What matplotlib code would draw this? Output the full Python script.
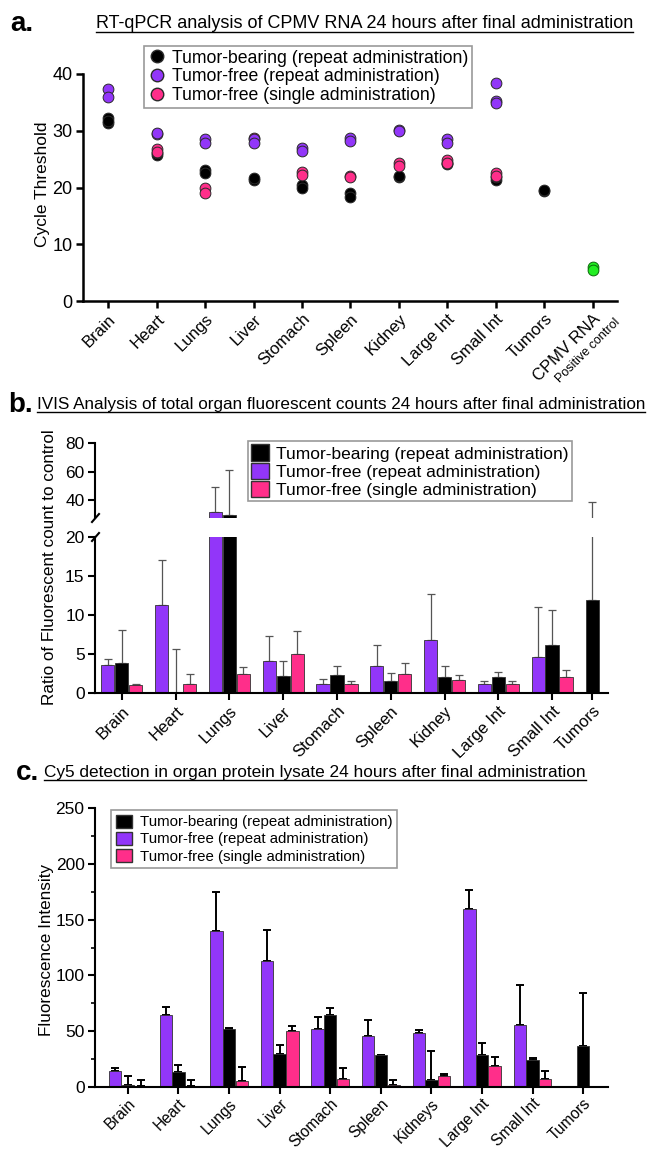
import numpy as np
import matplotlib
matplotlib.use("Agg")
import matplotlib.pyplot as plt
from matplotlib.lines import Line2D
from matplotlib.patches import Patch

plt.rcParams['font.family'] = ['Liberation Sans', 'DejaVu Sans']

BLACK = '#000000'
PURPLE = '#9236F9'
PINK = '#FF2E8A'
GREEN = '#22EE22'

# ---------------- panel a data (Ct values per organ) ----------------
organs_a = ['Brain', 'Heart', 'Lungs', 'Liver', 'Stomach', 'Spleen', 'Kidney',
            'Large Int', 'Small Int', 'Tumors', 'CPMV RNA']
tb_a = [[32.2, 31.3, 31.8], [25.7, 26.0], [23.0, 22.5], [21.4, 21.6],
        [20.4, 20.0], [19.0, 18.4], [21.8, 22.0], [24.1, 24.4],
        [21.4, 21.8], [19.4, 19.5], []]
tfr_a = [[37.3, 36.0], [29.4, 29.6], [28.5, 27.9], [28.5, 27.9],
         [26.9, 26.5], [28.8, 28.2], [30.2, 30.0], [28.5, 27.9],
         [38.5, 35.3, 34.9], [], []]
tfs_a = [[], [26.7, 26.3], [19.9, 19.0], [28.8], [22.8, 22.2],
         [22.0, 21.8], [24.3, 23.8], [24.8, 24.4], [22.5, 22.1], [], []]
ctrl_a = [6.0, 5.5]

# ---------------- panel b data (ratio to control) ----------------
organs_b = ['Brain', 'Heart', 'Lungs', 'Liver', 'Stomach', 'Spleen', 'Kidney',
            'Large Int', 'Small Int', 'Tumors']
tfr_b = [3.6, 11.3, 31.5, 4.1, 1.2, 3.4, 6.8, 1.1, 4.6, np.nan]
tfr_b_err = [0.7, 5.8, 17.5, 3.2, 0.6, 2.8, 5.9, 0.4, 6.4, np.nan]
tb_b = [3.8, 0.0, 29.4, 2.2, 2.3, 1.6, 2.0, 2.0, 6.2, 11.9]
tb_b_err = [4.3, 5.6, 31.6, 1.9, 1.2, 1.0, 1.4, 0.7, 4.5, 26.7]
tfs_b = [1.0, 1.2, 2.4, 5.0, 1.1, 2.5, 1.7, 1.1, 2.1, np.nan]
tfs_b_err = [0.2, 1.2, 0.9, 3.0, 0.4, 1.3, 0.6, 0.5, 0.9, np.nan]

# ---------------- panel c data (fluorescence intensity) ----------------
organs_c = ['Brain', 'Heart', 'Lungs', 'Liver', 'Stomach', 'Spleen', 'Kidneys',
            'Large Int', 'Small Int', 'Tumors']
tfr_c = [14, 64.5, 140, 112.5, 51.6, 45.7, 48, 159.6, 55.8, np.nan]
tfr_c_err = [3, 7.5, 35, 28, 11.4, 14.6, 3, 16.8, 35.5, np.nan]
tb_c = [1.5, 13.6, 52.2, 29.2, 64.2, 28.4, 6.3, 28.4, 24.2, 37]
tb_c_err = [8, 6.4, 0.8, 8.4, 6.2, 0.6, 26.2, 10.6, 1.8, 47.4]
tfs_c = [0.5, 1, 5.7, 49.8, 6.9, 1.8, 10.1, 19.1, 7.5, np.nan]
tfs_c_err = [5.5, 5, 12.2, 4.5, 10.1, 4.5, 1.5, 8.1, 7.1, np.nan]

legend_labels = ['Tumor-bearing (repeat administration)',
                 'Tumor-free (repeat administration)',
                 'Tumor-free (single administration)']

W, H = 649, 1150
fig = plt.figure(figsize=(W / 100, H / 100), dpi=100)


def box(l, t, r, b):
    # pixel box -> figure rect
    return [l / W, 1 - b / H, (r - l) / W, (b - t) / H]


def style_axis(ax, lw=1.5, size=12.5):
    for s in ['top', 'right']:
        ax.spines[s].set_visible(False)
    for s in ['left', 'bottom']:
        ax.spines[s].set_linewidth(lw)
    ax.tick_params(width=lw, length=5, labelsize=size, direction='out', pad=2.5)


def title(y, letter, text, x_letter, x_text, size):
    fig.text(x_letter / W, 1 - y / H, letter, fontsize=20, fontweight='bold',
             va='center', ha='left')
    t = fig.text(x_text / W, 1 - y / H, text, fontsize=size, va='center', ha='left')
    # underline
    fig.canvas.draw()
    bb = t.get_window_extent()
    fig.add_artist(Line2D([bb.x0 / W, bb.x1 / W], [(bb.y0 + 1) / H, (bb.y0 + 1) / H],
                          transform=fig.transFigure, color='black', lw=1))


# ================= panel a =================
axa = fig.add_axes(box(83, 74, 617, 301))
style_axis(axa, 1.8, 13)
xa = np.arange(len(organs_a))
for vals, col in [(tb_a, BLACK), (tfs_a, PINK), (tfr_a, PURPLE)]:
    for i, v in enumerate(vals):
        if v:
            axa.scatter([xa[i]] * len(v), v, s=60, color=col,
                        edgecolor='#2a2a2a', linewidth=0.7, zorder=3)
axa.scatter([xa[-1]] * len(ctrl_a), ctrl_a, s=60, color=GREEN,
            edgecolor='#0b6b0b', linewidth=0.7, zorder=3)
axa.set_xlim(-0.52, 10.5)
axa.set_ylim(0, 40)
axa.set_yticks([0, 10, 20, 30, 40])
axa.set_xticks(xa)
axa.set_xticklabels(organs_a, rotation=45, ha='right', rotation_mode='anchor',
                    fontsize=12)
axa.annotate('Positive control', xy=(xa[-1], 0), xycoords=('data', 'axes fraction'),
             xytext=(15, -11), textcoords='offset points', rotation=45,
             ha='right', va='top', rotation_mode='anchor', fontsize=9)
fig.text(42 / W, 1 - 184 / H, 'Cycle Threshold', rotation=90, fontsize=12.5,
         ha='center', va='center')
ha = [Line2D([], [], marker='o', ls='', color=c, markeredgecolor='#2a2a2a',
             markersize=9) for c in (BLACK, PURPLE, PINK)]
axa.legend(ha, legend_labels, loc='upper left', fontsize=12.7,
           bbox_to_anchor=(144 / W, 1 - 46 / H), bbox_transform=fig.transFigure,
           frameon=True, fancybox=False, edgecolor='#808080', borderpad=0.2,
           handletextpad=0.3, labelspacing=0.1, handlelength=1.1,
           borderaxespad=0).get_frame().set_linewidth(1.2)

# ================= panel b (broken axis) =================
xb = np.arange(len(organs_b), dtype=float)
xb[-1] -= 0.25          # tumors group sits closer
wb, offb = 0.245, 0.26
axb_top = fig.add_axes(box(95, 443, 608, 518))
axb = fig.add_axes(box(95, 537, 608, 693))
for ax in (axb_top, axb):
    style_axis(ax, 1.5, 12.5)
    for vals, errs, col, off in [(tfr_b, tfr_b_err, PURPLE, -offb),
                                 (tb_b, tb_b_err, BLACK, 0.0),
                                 (tfs_b, tfs_b_err, PINK, offb)]:
        v = np.array(vals)
        e = np.array(errs)
        ax.bar(xb + off, v, width=wb, color=col, edgecolor='#333333', linewidth=0.6,
               zorder=2)
        ax.errorbar(xb + off, v, yerr=[np.zeros_like(e), e], fmt='none',
                    ecolor='#555555', elinewidth=0.9, capsize=2.6, capthick=0.9,
                    zorder=1)
    ax.set_xlim(-0.5, 9.04)
axb_top.set_ylim(27.4, 80)
axb_top.set_yticks([40, 60, 80])
axb_top.spines['bottom'].set_visible(False)
axb_top.set_xticks([])
axb.set_ylim(0, 20)
axb.set_yticks([0, 5, 10, 15, 20])
axb.set_xticks(xb)
axb.set_xticklabels(organs_b, rotation=45, ha='right', rotation_mode='anchor',
                    fontsize=12)
# break marks
for y0 in (518, 537):
    fig.add_artist(Line2D([92 / W, 99 / W], [1 - (y0 + 4) / H, 1 - (y0 - 4) / H],
                          transform=fig.transFigure, color='black', lw=1.5))
fig.text(50 / W, 1 - 567 / H, 'Ratio of Fluorescent count to control', rotation=90,
         fontsize=12.3, ha='center', va='center')
hb = [Patch(facecolor=c, edgecolor='#333333') for c in (BLACK, PURPLE, PINK)]
axb_top.legend(hb, legend_labels, loc='upper left', fontsize=12.5,
               bbox_to_anchor=(248 / W, 1 - 441 / H), bbox_transform=fig.transFigure,
               frameon=True, fancybox=False, edgecolor='#808080', borderpad=0.2,
               handletextpad=0.4, labelspacing=0.05, handlelength=1.0,
               handleheight=1.1, borderaxespad=0).get_frame().set_linewidth(1.2)

# ================= panel c =================
axc = fig.add_axes(box(95, 808, 608, 1087))
style_axis(axc, 1.5, 12.5)
xc = np.arange(len(organs_c))
wc, offc = 0.245, 0.25
for vals, errs, col, off in [(tfr_c, tfr_c_err, PURPLE, -offc),
                             (tb_c, tb_c_err, BLACK, 0.0),
                             (tfs_c, tfs_c_err, PINK, offc)]:
    v = np.array(vals)
    e = np.array(errs)
    axc.bar(xc + off, v, width=wc, color=col, edgecolor='#333333', linewidth=0.6,
            zorder=2)
    axc.errorbar(xc + off, v, yerr=[np.zeros_like(e), e], fmt='none',
                 ecolor='black', elinewidth=1.4, capsize=2.8, capthick=1.4,
                 zorder=1)
axc.set_xlim(-0.65, 9.49)
axc.set_ylim(0, 250)
axc.set_yticks([0, 50, 100, 150, 200, 250])
axc.set_yticks(np.arange(25, 250, 50), minor=True)
axc.tick_params(which='minor', length=3, width=1.2)
axc.tick_params(axis='x', pad=1.5)
axc.set_xticks(xc)
axc.set_xticklabels(organs_c, rotation=45, ha='right', rotation_mode='anchor',
                    fontsize=11.2)
fig.text(47 / W, 1 - 950 / H, 'Fluorescence Intensity', rotation=90,
         fontsize=12.3, ha='center', va='center')
hc = [Patch(facecolor=c, edgecolor='#333333') for c in (BLACK, PURPLE, PINK)]
axc.legend(hc, legend_labels, loc='upper left', fontsize=10.8,
           bbox_to_anchor=(111 / W, 1 - 810 / H), bbox_transform=fig.transFigure,
           frameon=True, fancybox=False, edgecolor='#808080', borderpad=0.3,
           handletextpad=0.5, labelspacing=0.15, handlelength=1.1,
           handleheight=1.0, borderaxespad=0).get_frame().set_linewidth(1.2)

# ================= titles =================
title(24, 'a.', 'RT-qPCR analysis of CPMV RNA 24 hours after final administration',
      10, 96, 13)
title(405, 'b.', 'IVIS Analysis of total organ fluorescent counts 24 hours after final administration',
      8, 37, 12.3)
title(773, 'c.', 'Cy5 detection in organ protein lysate 24 hours after final administration',
      16, 44, 12.4)

fig.savefig('out.png', dpi=100)
